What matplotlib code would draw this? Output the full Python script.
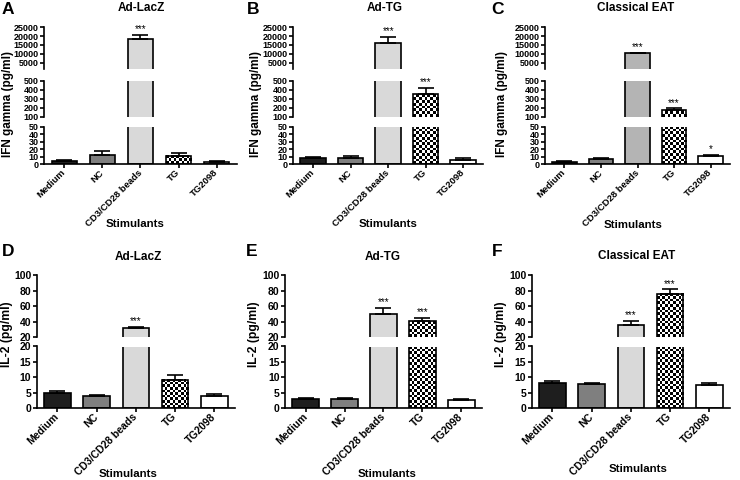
import numpy as np
import matplotlib
matplotlib.use('Agg')
import matplotlib.pyplot as plt

plt.rcParams['font.family'] = ['Liberation Sans', 'DejaVu Sans']

# ---------------- data ----------------
categories = ["Medium", "NC", "CD3/CD28 beads", "TG", "TG2098"]

# IFN gamma (pg/ml): bar means and tops of the (upper) error bars
ifn_lacz = [4.4, 12.8, 18200, 11.5, 3.5]
ifn_lacz_top = [5.2, 18.0, 20700, 15.5, 4.2]
ifn_lacz_sig = ["", "", "***", "", ""]

ifn_adtg = [8.0, 8.0, 16000, 352, 5.7]
ifn_adtg_top = [10.0, 11.0, 19700, 415, 7.8]
ifn_adtg_sig = ["", "", "***", "***", ""]

ifn_eat = [3.5, 6.5, 10500, 170, 10.5]
ifn_eat_top = [4.0, 8.0, 10700, 192, 12.2]
ifn_eat_sig = ["", "", "***", "***", "*"]

# IL-2 (pg/ml)
il2_lacz = [5.0, 3.8, 31.5, 9.3, 4.0]
il2_lacz_top = [5.5, 4.3, 33.5, 10.6, 4.7]
il2_lacz_sig = ["", "", "***", "", ""]

il2_adtg = [3.0, 2.9, 50.3, 40.7, 2.6]
il2_adtg_top = [3.3, 3.3, 58.0, 45.0, 2.9]
il2_adtg_sig = ["", "", "***", "***", ""]

il2_eat = [8.1, 7.7, 35.7, 76.2, 7.5]
il2_eat_top = [8.8, 8.2, 40.8, 81.7, 8.3]
il2_eat_sig = ["", "", "***", "***", ""]

titles = ["Ad-LacZ", "Ad-TG", "Classical EAT"]
letters = ["A", "B", "C", "D", "E", "F"]
ifn_ticks_top = [5000, 10000, 15000, 20000, 25000]
ifn_ticks_mid = [100, 200, 300, 400, 500]
ifn_ticks_bot = [0, 10, 20, 30, 40, 50]
il2_ticks_up = [20, 40, 60, 80, 100]
il2_ticks_low = [0, 5, 10, 15, 20]

# ---------------- style ----------------
W, H = 740, 480
fig = plt.figure(figsize=(W / 100, H / 100), dpi=100)
fig.patch.set_facecolor('white')

bar_colors = ['#1e1e1e', '#7f7f7f', '#d9d9d9', 'none', 'white']
bar_colors_c = ['#1e1e1e', '#7f7f7f', '#b4b4b4', 'none', 'white']
BW = 0.68
LW = 1.2
XLIM = (-0.53, 4.53)


def px_axes(x0, y0, x1, y1):
    return fig.add_axes([x0 / W, 1 - y1 / H, (x1 - x0) / W, (y1 - y0) / H])


def checker(ax, xc, val):
    y0l, y1l = ax.get_ylim()
    lo = max(0, y0l)
    hi = min(val, y1l)
    if hi <= lo:
        return
    x0, x1 = xc - BW / 2, xc + BW / 2
    p0 = ax.transData.transform((x0, lo))
    p1 = ax.transData.transform((x1, hi))
    ncol = max(1, int(round((p1[0] - p0[0]) / 2.7)))
    nrow = max(1, int(round((p1[1] - p0[1]) / 2.7)))
    arr = np.add.outer(np.arange(nrow), np.arange(ncol)) % 2
    ax.imshow(arr, cmap='gray', vmin=0, vmax=1, extent=(x0, x1, lo, hi),
              origin='lower', interpolation='nearest', aspect='auto', zorder=1.5)
    ax.set_xlim(*XLIM)
    ax.set_ylim(y0l, y1l)


def draw_panel(xr, segs, vals, tops, sigs, colors, tick_fs, xt_fs):
    x = np.arange(len(categories))
    axes = []
    for i, (y0, y1, lo, hi, ticks) in enumerate(segs):
        ax = px_axes(xr[0], y0, xr[1], y1)
        ax.set_xlim(*XLIM)
        ax.set_ylim(lo, hi)
        ax.bar(x, vals, width=BW, color=colors, edgecolor='black',
               linewidth=LW, zorder=2)
        for k in range(len(x)):
            if colors[k] == 'none':
                checker(ax, x[k], vals[k])
        for k in range(len(x)):
            if lo <= tops[k] <= hi:
                ax.errorbar([x[k]], [vals[k]],
                            yerr=[[0], [tops[k] - vals[k]]], fmt='none',
                            ecolor='black', elinewidth=LW, capsize=5.5,
                            capthick=LW, zorder=4)
                if sigs[k]:
                    ax.annotate(sigs[k], (x[k], tops[k]), xytext=(0, 2),
                                textcoords='offset points', ha='center',
                                va='baseline', fontsize=7,
                                annotation_clip=False)
        ax.set_yticks(ticks)
        ax.set_yticklabels([str(t) for t in ticks], fontsize=tick_fs,
                           fontweight='bold')
        for s in ['top', 'right']:
            ax.spines[s].set_visible(False)
        ax.spines['left'].set_linewidth(LW)
        ax.tick_params(axis='y', direction='out', length=3, width=LW, pad=1)
        ax.patch.set_alpha(0)
        last = (i == len(segs) - 1)
        if last:
            ax.spines['bottom'].set_linewidth(LW)
            ax.set_xticks(x)
            ax.set_xticklabels(categories, rotation=45, ha='right', va='center',
                               rotation_mode='anchor', fontsize=xt_fs,
                               fontweight='bold')
            ax.tick_params(axis='x', direction='out', length=3, width=LW, pad=2)
        else:
            ax.spines['bottom'].set_visible(False)
            ax.set_xticks([])
        axes.append(ax)
    return axes


top_segs = [(27.3, 68.85, 1500, 25000, ifn_ticks_top),
            (80.7, 116.7, 100, 500, ifn_ticks_mid),
            (126.7, 164.3, 0, 50, ifn_ticks_bot)]
bot_segs = [(275.3, 337.0, 20, 100, il2_ticks_up),
            (346.5, 408.2, 0, 20, il2_ticks_low)]

top_x = [(44.3, 236.7), (293.3, 483.0), (545.0, 730.0)]
bot_x = [(36.7, 235.0), (285.0, 482.0), (531.7, 730.0)]

ifn_data = [(ifn_lacz, ifn_lacz_top, ifn_lacz_sig),
            (ifn_adtg, ifn_adtg_top, ifn_adtg_sig),
            (ifn_eat, ifn_eat_top, ifn_eat_sig)]
il2_data = [(il2_lacz, il2_lacz_top, il2_lacz_sig),
            (il2_adtg, il2_adtg_top, il2_adtg_sig),
            (il2_eat, il2_eat_top, il2_eat_sig)]

for j in range(3):
    cols = bar_colors_c if j == 2 else bar_colors
    v, t, s = ifn_data[j]
    draw_panel(top_x[j], top_segs, v, t, s, cols, 6.5, 6.8)
    v, t, s = il2_data[j]
    draw_panel(bot_x[j], bot_segs, v, t, s, bar_colors, 7.5, 7.5)


def ftext(xp, yp, s, **kw):
    fig.text(xp / W, 1 - yp / H, s, **kw)


# titles
for (xc, yc), ttl in zip([(141.5, 8), (385, 8), (636, 8)], titles):
    ftext(xc, yc, ttl, ha='center', va='center', fontsize=8.5, fontweight='bold')
for (xc, yc), ttl in zip([(138, 257), (383, 257), (637, 256)], titles):
    ftext(xc, yc, ttl, ha='center', va='center', fontsize=8.5, fontweight='bold')

# panel letters
for (xc, yc), L in zip([(8, 9), (253, 9), (497, 9), (8, 251), (252, 251), (497, 251)], letters):
    ftext(xc, yc, L, ha='center', va='center', fontsize=12.5, fontweight='bold')

# y labels
for xc in [8, 256, 502]:
    ftext(xc, 104, "IFN gamma (pg/ml)", ha='center', va='center', rotation=90,
          fontsize=8.5, fontweight='bold')
for xc in [7.5, 254, 501]:
    ftext(xc, 334, "IL-2 (pg/ml)", ha='center', va='center', rotation=90,
          fontsize=8.7, fontweight='bold')

# x labels
for xc, yc in [(135, 224), (388, 224), (633, 225), (128, 474), (387, 474), (638, 469)]:
    ftext(xc, yc, "Stimulants", ha='center', va='center', fontsize=8.2,
          fontweight='bold')

fig.savefig('out.png', dpi=100, facecolor='white')
